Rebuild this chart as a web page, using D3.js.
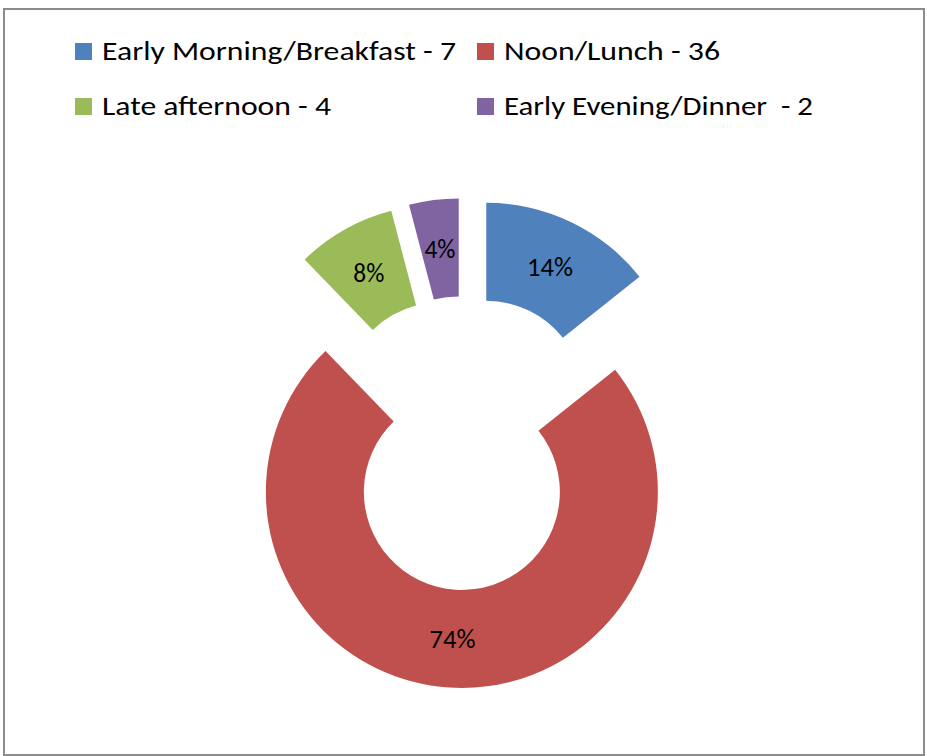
<!DOCTYPE html>
<html>
<head>
<meta charset="utf-8">
<script src="https://cdn.jsdelivr.net/npm/d3@7"></script>
<style>
  body { margin: 0; background: #fff; }
  text { font-family: Carlito, Calibri, "Open Sans", sans-serif; fill: #000; }
</style>
</head>
<body>
<div id="chart"></div>
<script>
var WIDTH = 927;
var HEIGHT = 756;

// values
var categories = ["Early Morning/Breakfast", "Noon/Lunch", "Late afternoon", "Early Evening/Dinner"];
var values = [7, 36, 4, 2];
var legendLabels = ["Early Morning/Breakfast - 7", "Noon/Lunch - 36", "Late afternoon - 4", "Early Evening/Dinner  - 2"];
var pctLabels = ["14%", "74%", "8%", "4%"];
var colors = ["#4F81BD", "#C0504D", "#9BBB59", "#8064A2"];

// legend text widths measured on the reference (Calibri is narrow)
var legendWidths = [354, 216, 229, 309];

function drawChart() {
  const svg = d3.select("#chart").append("svg")
    .attr("width", WIDTH)
    .attr("height", HEIGHT);

  // chart frame
  svg.append("rect")
    .attr("x", 4)
    .attr("y", 9)
    .attr("width", 920)
    .attr("height", 746)
    .attr("fill", "#fff")
    .attr("stroke", "#8c8c8c")
    .attr("stroke-width", 2);

  let cx = 465, cy = 443;
  let outer = 196, inner = 98;
  let explode = 49;

  const pie = d3.pie().sort(null).value(d => d);
  const arcs = pie(values);

  const arc = d3.arc()
    .innerRadius(inner)
    .outerRadius(outer);

  const g = svg.append("g")
    .attr("transform", `translate(${cx},${cy})`);

  // each slice pushed out along its middle angle
  const slice = g.selectAll("g.slice")
    .data(arcs)
    .join("g")
      .attr("class", "slice")
      .attr("transform", d => {
        const a = (d.startAngle + d.endAngle) / 2;
        return `translate(${explode * Math.sin(a)},${-explode * Math.cos(a)})`;
      });

  slice.append("path")
    .attr("d", arc)
    .attr("fill", (d, i) => colors[i]);

  slice.append("text")
    .attr("transform", d => `translate(${arc.centroid(d)})`)
    .attr("text-anchor", "middle")
    .attr("dy", "0.35em")
    .style("font-size", "27px")
    .attr("textLength", (d, i) => pctLabels[i].length > 2 ? 46 : 31)
    .attr("lengthAdjust", "spacingAndGlyphs")
    .text((d, i) => pctLabels[i]);

  // legend, two columns by two rows
  let colX = [75, 477];
  let rowY = [43, 98];

  const legend = svg.append("g")
    .selectAll("g")
    .data(categories)
    .join("g")
      .attr("transform", (d, i) => `translate(${colX[i % 2]},${rowY[Math.floor(i / 2)]})`);

  legend.append("rect")
    .attr("width", 17)
    .attr("height", 17)
    .attr("fill", (d, i) => colors[i]);

  legend.append("text")
    .attr("x", 27)
    .attr("y", 17)
    .style("font-size", "27px")
    .style("white-space", "pre")
    .attr("textLength", (d, i) => legendWidths[i])
    .attr("lengthAdjust", "spacingAndGlyphs")
    .text((d, i) => legendLabels[i]);
}

drawChart();
</script>
</body>
</html>
